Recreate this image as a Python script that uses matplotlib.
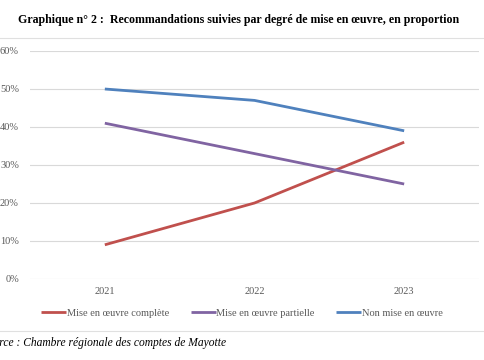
import numpy as np
import matplotlib.pyplot as plt
from matplotlib.lines import Line2D

years = ["2021", "2022", "2023"]
complete = [9, 20, 36]
partielle = [41, 33, 25]
non_mise = [50, 47, 39]
series_names = ["Mise en œuvre complète", "Mise en œuvre partielle", "Non mise en œuvre"]
yticks = [0, 10, 20, 30, 40, 50, 60]

plt.rcParams['font.family'] = ['Liberation Serif', 'DejaVu Serif']

fig = plt.figure(figsize=(4.85, 3.6), dpi=100)
ax = fig.add_axes([30 / 485, 1 - 279 / 360, 449 / 485, 228 / 360])

x = np.arange(len(years))
colors = ["#C0504D", "#8064A2", "#4F81BD"]
for vals, c, name in zip([complete, partielle, non_mise], colors, series_names):
    ax.plot(x, vals, color=c, lw=2, label=name, solid_capstyle='butt')

ax.set_xlim(-0.5, 2.5)
ax.set_ylim(0, 60)
ax.set_yticks(yticks)
ax.set_yticklabels([f"{v}%" for v in yticks])
ax.set_xticks(x)
ax.set_xticklabels(years)
ax.yaxis.grid(True, color="#d9d9d9", lw=0.8)
ax.set_axisbelow(True)
for s in ax.spines.values():
    s.set_visible(False)
ax.tick_params(length=0, labelsize=7.5, colors="#595959")
ax.tick_params(axis='y', pad=8)
ax.tick_params(axis='x', pad=6)

ax.legend(loc='center', bbox_to_anchor=(0.472, -0.149), ncol=3, frameon=False,
          fontsize=7.5, labelcolor="#595959", handlelength=2.4, handletextpad=0.05,
          columnspacing=2.1)

fig.text(239 / 485, 1 - 20 / 360, "Graphique n° 2 :  Recommandations suivies par degré de mise en œuvre, en proportion",
         ha='center', va='center', fontsize=8.6, fontweight='bold')
fig.add_artist(Line2D([0, 1], [1 - 38 / 360] * 2, color="#e0e0e0", lw=0.8))
fig.add_artist(Line2D([0, 1], [1 - 331 / 360] * 2, color="#e0e0e0", lw=0.8))
fig.text(-18 / 485, 1 - 343 / 360, "Source : Chambre régionale des comptes de Mayotte",
         ha='left', va='center', fontsize=8.3, style='italic')

fig.savefig("out.png", dpi=100)
